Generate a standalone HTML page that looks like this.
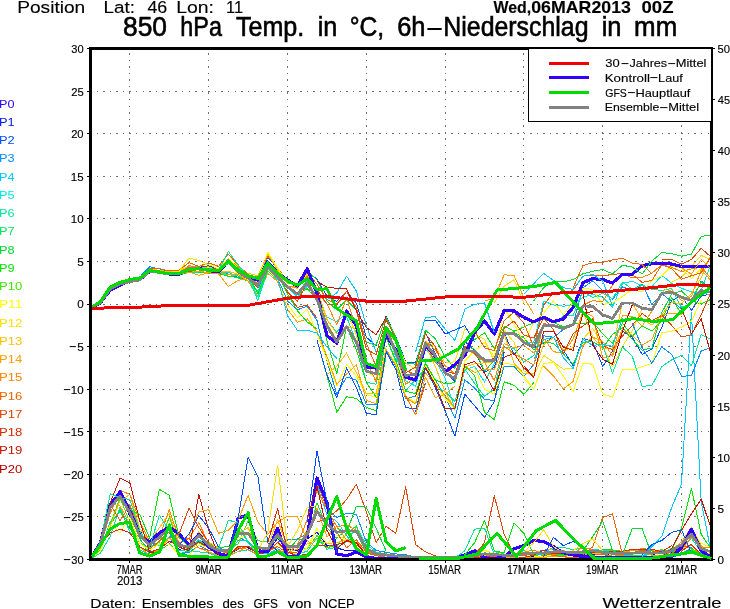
<!DOCTYPE html>
<html lang="de"><head><meta charset="utf-8"><title>850 hPa Temp. in °C, 6h-Niederschlag in mm</title>
<style>html,body{margin:0;padding:0;background:#fff;}body{width:730px;height:609px;overflow:hidden;}svg{display:block;}text{font-family:"Liberation Sans",sans-serif;fill:#000;}</style></head><body>
<svg width="730" height="609" viewBox="0 0 730 609">
<rect x="0" y="0" width="730" height="609" fill="#fff"/>
<g fill="none" stroke-linejoin="round" stroke-linecap="butt" shape-rendering="crispEdges">
<polyline points="90.5,559.0 100.3,545.8 110.2,503.8 120.0,490.2 129.9,517.0 139.8,530.4 149.6,546.9 159.4,543.8 169.3,538.3 179.1,549.7 189.0,545.4 198.8,540.5 208.7,547.3 218.5,552.3 228.4,554.9 238.2,548.9 248.1,547.8 257.9,552.5 267.8,551.9 277.6,538.3 287.5,548.9 297.4,550.6 307.2,539.0 317.0,532.1 326.9,545.6 336.8,548.0 346.6,550.7 356.4,550.1 366.3,556.0 376.1,557.5 386.0,557.6 395.8,558.2 405.7,558.3 415.6,559.0 425.4,558.9 435.2,558.9 445.1,558.7 454.9,559.0 464.8,559.0 474.6,558.3 484.5,558.4 494.3,558.2 504.2,558.0 514.0,557.6 523.9,557.7 533.8,556.7 543.6,556.0 553.5,556.2 563.3,554.6 573.1,555.1 583.0,554.2 592.8,554.2 602.7,554.0 612.5,554.5 622.4,552.3 632.2,552.1 642.1,553.5 651.9,554.6 661.8,552.8 671.6,552.3 681.5,545.8 691.4,533.1 701.2,549.9 711.0,556.5" stroke="#0010ff" stroke-width="1" />
<polyline points="90.5,559.0 100.3,542.9 110.2,503.8 120.0,490.2 129.9,508.0 139.8,539.0 149.6,551.4 159.4,533.8 169.3,532.1 179.1,553.7 189.0,552.5 198.8,545.5 208.7,550.3 218.5,548.4 228.4,550.3 238.2,536.5 248.1,542.4 257.9,551.6 267.8,553.0 277.6,542.3 287.5,539.0 297.4,539.0 307.2,533.7 317.0,482.7 326.9,508.9 336.8,517.4 346.6,513.4 356.4,514.4 366.3,542.2 376.1,550.4 386.0,552.3 395.8,553.9 405.7,554.8 415.6,556.9 425.4,558.0 435.2,557.6 445.1,557.4 454.9,557.8 464.8,557.6 474.6,553.9 484.5,550.4 494.3,553.2 504.2,555.1 514.0,554.5 523.9,553.6 533.8,552.5 543.6,550.1 553.5,549.2 563.3,553.5 573.1,552.9 583.0,552.7 592.8,551.9 602.7,554.6 612.5,556.7 622.4,557.4 632.2,557.1 642.1,557.2 651.9,558.5 661.8,557.1 671.6,556.9 681.5,554.9 691.4,547.4 701.2,556.9 711.0,555.5" stroke="#0090ff" stroke-width="1" />
<polyline points="90.5,559.0 100.3,549.9 110.2,522.0 120.0,511.5 129.9,524.2 139.8,549.9 149.6,555.2 159.4,551.1 169.3,536.4 179.1,550.9 189.0,549.3 198.8,539.9 208.7,546.4 218.5,548.8 228.4,553.9 238.2,540.2 248.1,541.2 257.9,551.9 267.8,554.1 277.6,548.7 287.5,555.0 297.4,555.6 307.2,536.5 317.0,485.4 326.9,514.8 336.8,521.4 346.6,535.2 356.4,550.6 366.3,557.1 376.1,557.7 386.0,556.5 395.8,557.1 405.7,558.0 415.6,558.5 425.4,558.8 435.2,559.0 445.1,558.9 454.9,558.8 464.8,558.9 474.6,558.4 484.5,557.8 494.3,557.4 504.2,556.2 514.0,556.4 523.9,550.5 533.8,554.7 543.6,554.2 553.5,555.4 563.3,555.2 573.1,555.3 583.0,553.3 592.8,549.5 602.7,553.5 612.5,556.1 622.4,556.0 632.2,555.3 642.1,555.6 651.9,554.3 661.8,550.4 671.6,553.2 681.5,547.2 691.4,530.5 701.2,553.8 711.0,554.7" stroke="#00c8ff" stroke-width="1" />
<polyline points="90.5,559.0 100.3,553.3 110.2,536.5 120.0,506.9 129.9,532.6 139.8,536.1 149.6,545.0 159.4,545.7 169.3,537.1 179.1,547.2 189.0,551.4 198.8,551.9 208.7,553.1 218.5,556.4 228.4,555.0 238.2,551.6 248.1,549.8 257.9,555.4 267.8,556.7 277.6,551.4 287.5,553.9 297.4,554.1 307.2,551.2 317.0,537.9 326.9,549.3 336.8,547.2 346.6,541.8 356.4,527.0 366.3,544.6 376.1,552.1 386.0,554.0 395.8,555.7 405.7,557.6 415.6,557.4 425.4,557.5 435.2,557.9 445.1,558.5 454.9,557.7 464.8,557.6 474.6,557.1 484.5,554.5 494.3,551.5 504.2,554.1 514.0,554.2 523.9,554.1 533.8,554.9 543.6,552.7 553.5,547.2 563.3,547.2 573.1,549.9 583.0,547.5 592.8,549.6 602.7,550.3 612.5,550.2 622.4,554.1 632.2,555.9 642.1,555.2 651.9,554.0 661.8,553.6 671.6,548.2 681.5,549.1 691.4,538.0 701.2,552.4 711.0,554.0" stroke="#00e6a0" stroke-width="1" />
<polyline points="90.5,559.0 100.3,546.9 110.2,524.7 120.0,510.6 129.9,529.2 139.8,537.9 149.6,554.5 159.4,550.7 169.3,543.8 179.1,554.1 189.0,550.8 198.8,541.8 208.7,543.6 218.5,547.3 228.4,546.8 238.2,529.4 248.1,541.0 257.9,551.6 267.8,553.1 277.6,542.3 287.5,551.8 297.4,539.0 307.2,539.0 317.0,502.6 326.9,528.0 336.8,538.3 346.6,529.1 356.4,532.5 366.3,553.1 376.1,555.3 386.0,556.4 395.8,558.3 405.7,558.1 415.6,558.8 425.4,558.9 435.2,558.6 445.1,558.4 454.9,558.5 464.8,557.2 474.6,554.9 484.5,554.3 494.3,554.8 504.2,556.0 514.0,557.9 523.9,557.9 533.8,558.0 543.6,555.3 553.5,554.6 563.3,554.9 573.1,555.9 583.0,553.2 592.8,552.5 602.7,549.6 612.5,549.9 622.4,551.4 632.2,549.8 642.1,549.4 651.9,552.8 661.8,553.7 671.6,555.4 681.5,552.9 691.4,550.0 701.2,555.6 711.0,554.3" stroke="#00dc32" stroke-width="1" />
<polyline points="90.5,559.0 100.3,549.0 110.2,524.4 120.0,497.8 129.9,522.4 139.8,543.1 149.6,548.2 159.4,542.3 169.3,517.2 179.1,544.9 189.0,549.0 198.8,542.6 208.7,547.8 218.5,551.8 228.4,550.3 238.2,543.7 248.1,520.8 257.9,540.6 267.8,542.2 277.6,537.6 287.5,548.2 297.4,547.1 307.2,548.8 317.0,535.4 326.9,547.4 336.8,545.9 346.6,533.9 356.4,525.7 366.3,552.7 376.1,553.5 386.0,553.7 395.8,556.1 405.7,556.3 415.6,556.3 425.4,557.5 435.2,557.8 445.1,558.2 454.9,557.6 464.8,558.7 474.6,556.4 484.5,556.0 494.3,555.1 504.2,557.4 514.0,557.8 523.9,557.3 533.8,555.4 543.6,557.0 553.5,555.1 563.3,555.7 573.1,553.8 583.0,553.8 592.8,551.9 602.7,553.9 612.5,550.6 622.4,552.9 632.2,553.5 642.1,548.1 651.9,550.4 661.8,549.9 671.6,551.2 681.5,545.3 691.4,548.9 701.2,554.0 711.0,556.0" stroke="#3ce600" stroke-width="1" />
<polyline points="90.5,559.0 100.3,551.1 110.2,524.1 120.0,532.8 129.9,516.8 139.8,543.2 149.6,550.3 159.4,543.7 169.3,544.1 179.1,555.0 189.0,555.3 198.8,545.0 208.7,547.2 218.5,555.2 228.4,552.2 238.2,538.0 248.1,534.7 257.9,548.9 267.8,548.9 277.6,543.2 287.5,553.1 297.4,553.8 307.2,548.1 317.0,528.6 326.9,543.7 336.8,535.4 346.6,539.8 356.4,543.3 366.3,551.0 376.1,554.4 386.0,556.1 395.8,557.6 405.7,558.2 415.6,558.9 425.4,558.6 435.2,558.0 445.1,557.4 454.9,557.4 464.8,557.2 474.6,554.3 484.5,550.4 494.3,553.3 504.2,554.4 514.0,552.8 523.9,554.3 533.8,556.0 543.6,556.7 553.5,554.5 563.3,551.8 573.1,554.0 583.0,551.8 592.8,551.6 602.7,552.7 612.5,554.8 622.4,554.9 632.2,554.8 642.1,551.8 651.9,549.1 661.8,554.0 671.6,551.0 681.5,546.0 691.4,529.2 701.2,543.4 711.0,547.2" stroke="#ffff00" stroke-width="1" />
<polyline points="90.5,559.0 100.3,548.7 110.2,526.4 120.0,500.7 129.9,494.5 139.8,528.5 149.6,541.2 159.4,527.8 169.3,513.4 179.1,543.9 189.0,548.3 198.8,531.8 208.7,542.0 218.5,548.3 228.4,552.2 238.2,533.0 248.1,527.7 257.9,547.8 267.8,547.2 277.6,519.3 287.5,548.8 297.4,546.8 307.2,544.0 317.0,539.7 326.9,543.5 336.8,542.5 346.6,540.2 356.4,546.3 366.3,555.9 376.1,557.5 386.0,557.6 395.8,558.2 405.7,558.7 415.6,558.2 425.4,558.6 435.2,558.6 445.1,558.7 454.9,558.7 464.8,558.6 474.6,557.6 484.5,555.4 494.3,557.1 504.2,558.1 514.0,556.1 523.9,555.1 533.8,553.0 543.6,550.6 553.5,548.8 563.3,550.4 573.1,555.4 583.0,556.6 592.8,553.9 602.7,553.5 612.5,553.3 622.4,556.2 632.2,557.7 642.1,557.7 651.9,558.0 661.8,557.3 671.6,556.9 681.5,549.5 691.4,545.2 701.2,554.1 711.0,553.7" stroke="#ffc000" stroke-width="1" />
<polyline points="90.5,559.0 100.3,546.0 110.2,503.8 120.0,505.8 129.9,524.2 139.8,547.1 149.6,555.1 159.4,548.8 169.3,537.9 179.1,545.8 189.0,545.7 198.8,547.9 208.7,552.0 218.5,555.4 228.4,556.3 238.2,551.5 248.1,546.1 257.9,553.4 267.8,547.4 277.6,530.1 287.5,552.6 297.4,549.2 307.2,529.3 317.0,508.5 326.9,536.9 336.8,526.4 346.6,539.9 356.4,540.3 366.3,555.5 376.1,557.8 386.0,558.5 395.8,557.9 405.7,557.2 415.6,558.2 425.4,558.8 435.2,558.7 445.1,558.4 454.9,558.8 464.8,559.0 474.6,558.1 484.5,556.1 494.3,556.2 504.2,556.2 514.0,557.4 523.9,558.1 533.8,557.1 543.6,557.3 553.5,556.4 563.3,556.3 573.1,555.6 583.0,555.8 592.8,551.7 602.7,553.4 612.5,553.3 622.4,552.4 632.2,550.5 642.1,549.8 651.9,555.4 661.8,556.0 671.6,549.8 681.5,542.1 691.4,527.7 701.2,545.8 711.0,552.7" stroke="#ffa000" stroke-width="1" />
<polyline points="90.5,559.0 100.3,547.0 110.2,513.4 120.0,490.2 129.9,494.5 139.8,521.4 149.6,541.2 159.4,537.2 169.3,509.6 179.1,538.7 189.0,538.5 198.8,522.5 208.7,543.9 218.5,550.3 228.4,553.8 238.2,547.6 248.1,549.4 257.9,554.9 267.8,556.3 277.6,550.2 287.5,553.1 297.4,545.1 307.2,519.3 317.0,491.0 326.9,508.9 336.8,526.8 346.6,524.9 356.4,530.2 366.3,551.0 376.1,555.0 386.0,557.4 395.8,557.3 405.7,557.7 415.6,558.6 425.4,558.7 435.2,558.4 445.1,558.6 454.9,558.3 464.8,558.0 474.6,554.6 484.5,554.9 494.3,555.7 504.2,555.7 514.0,553.5 523.9,552.1 533.8,550.1 543.6,554.8 553.5,554.9 563.3,550.8 573.1,553.4 583.0,547.2 592.8,549.9 602.7,553.1 612.5,556.4 622.4,555.1 632.2,554.6 642.1,548.6 651.9,550.9 661.8,552.8 671.6,554.4 681.5,550.4 691.4,536.7 701.2,547.7 711.0,547.9" stroke="#ff8200" stroke-width="1" />
<polyline points="90.5,559.0 100.3,542.9 110.2,504.0 120.0,520.7 129.9,504.8 139.8,531.6 149.6,548.9 159.4,541.0 169.3,531.7 179.1,542.9 189.0,538.5 198.8,548.0 208.7,550.4 218.5,549.4 228.4,553.1 238.2,549.3 248.1,545.9 257.9,551.9 267.8,551.3 277.6,546.5 287.5,553.2 297.4,551.9 307.2,539.0 317.0,482.7 326.9,508.9 336.8,532.4 346.6,547.8 356.4,539.7 366.3,552.1 376.1,555.7 386.0,557.3 395.8,557.0 405.7,558.3 415.6,558.5 425.4,558.5 435.2,558.3 445.1,557.6 454.9,557.9 464.8,557.9 474.6,555.4 484.5,556.1 494.3,556.6 504.2,556.8 514.0,555.6 523.9,555.7 533.8,553.6 543.6,553.1 553.5,555.3 563.3,556.8 573.1,557.7 583.0,556.6 592.8,555.2 602.7,554.4 612.5,553.4 622.4,554.8 632.2,552.7 642.1,550.3 651.9,551.0 661.8,551.0 671.6,553.3 681.5,547.2 691.4,545.2 701.2,555.1 711.0,556.2" stroke="#eb6400" stroke-width="1" />
<polyline points="90.5,559.0 100.3,544.5 110.2,533.0 120.0,529.1 129.9,532.8 139.8,546.7 149.6,552.3 159.4,549.0 169.3,541.4 179.1,546.1 189.0,548.5 198.8,541.7 208.7,547.8 218.5,553.0 228.4,556.2 238.2,546.2 248.1,546.5 257.9,554.1 267.8,552.4 277.6,542.1 287.5,552.1 297.4,555.8 307.2,554.2 317.0,545.0 326.9,546.2 336.8,545.0 346.6,541.2 356.4,543.6 366.3,555.3 376.1,557.7 386.0,557.7 395.8,558.4 405.7,557.9 415.6,558.8 425.4,559.0 435.2,559.0 445.1,559.0 454.9,558.6 464.8,558.8 474.6,557.8 484.5,556.6 494.3,557.4 504.2,558.4 514.0,558.7 523.9,557.4 533.8,555.3 543.6,550.1 553.5,554.0 563.3,552.7 573.1,553.9 583.0,551.1 592.8,552.4 602.7,552.2 612.5,551.4 622.4,551.4 632.2,549.4 642.1,549.7 651.9,549.1 661.8,551.8 671.6,545.6 681.5,551.3 691.4,544.1 701.2,554.3 711.0,555.3" stroke="#d72800" stroke-width="1" />
<polyline points="90.5,308.0 100.3,302.5 110.2,289.0 120.0,282.2 129.9,279.5 139.8,279.2 149.6,271.0 159.4,272.5 169.3,274.2 179.1,273.8 189.0,266.4 198.8,267.1 208.7,265.8 218.5,269.3 228.4,258.4 238.2,269.6 248.1,275.3 257.9,277.8 267.8,257.3 277.6,268.4 287.5,282.0 297.4,285.3 307.2,271.0 317.0,279.4 326.9,295.9 336.8,301.5 346.6,291.3 356.4,303.3 366.3,337.2 376.1,345.9 386.0,316.3 395.8,336.5 405.7,362.0 415.6,362.1 425.4,332.6 435.2,353.7 445.1,372.9 454.9,381.3 464.8,341.3 474.6,350.6 484.5,372.1 494.3,367.5 504.2,333.4 514.0,354.6 523.9,343.6 533.8,347.8 543.6,343.3 553.5,337.2 563.3,349.9 573.1,366.0 583.0,338.5 592.8,341.6 602.7,366.7 612.5,350.9 622.4,331.0 632.2,337.1 642.1,354.4 651.9,348.9 661.8,327.3 671.6,300.3 681.5,296.4 691.4,310.3 701.2,296.1 711.0,294.0" stroke="#0050ff" stroke-width="1" />
<polyline points="90.5,308.0 100.3,300.8 110.2,286.7 120.0,281.7 129.9,278.5 139.8,277.0 149.6,266.8 159.4,268.9 169.3,271.2 179.1,272.6 189.0,268.5 198.8,269.1 208.7,271.6 218.5,273.3 228.4,274.0 238.2,277.3 248.1,279.4 257.9,287.7 267.8,269.5 277.6,278.5 287.5,301.0 297.4,309.8 307.2,306.2 317.0,320.4 326.9,360.8 336.8,394.2 346.6,377.1 356.4,380.0 366.3,404.4 376.1,405.0 386.0,351.1 395.8,365.8 405.7,399.0 415.6,396.0 425.4,364.2 435.2,379.6 445.1,396.3 454.9,418.1 464.8,379.8 474.6,388.0 484.5,399.3 494.3,400.6 504.2,366.0 514.0,366.3 523.9,376.5 533.8,364.5 543.6,335.8 553.5,337.3 563.3,329.6 573.1,323.8 583.0,287.7 592.8,280.7 602.7,290.9 612.5,299.4 622.4,287.0 632.2,290.1 642.1,284.1 651.9,304.5 661.8,293.5 671.6,301.6 681.5,308.6 691.4,302.8 701.2,281.0 711.0,289.8" stroke="#0090ff" stroke-width="1" />
<polyline points="90.5,308.0 100.3,303.7 110.2,289.8 120.0,284.2 129.9,281.5 139.8,280.1 149.6,271.1 159.4,272.4 169.3,273.0 179.1,272.3 189.0,266.5 198.8,269.3 208.7,271.2 218.5,271.7 228.4,276.4 238.2,275.1 248.1,278.7 257.9,285.2 267.8,268.4 277.6,277.1 287.5,286.5 297.4,297.2 307.2,286.2 317.0,295.2 326.9,317.1 336.8,321.8 346.6,312.9 356.4,333.2 366.3,363.7 376.1,365.6 386.0,328.7 395.8,356.7 405.7,380.8 415.6,386.2 425.4,349.3 435.2,359.9 445.1,377.9 454.9,409.3 464.8,369.6 474.6,366.4 484.5,382.0 494.3,363.7 504.2,331.9 514.0,332.8 523.9,343.6 533.8,342.2 543.6,301.1 553.5,305.0 563.3,306.2 573.1,304.8 583.0,297.0 592.8,294.5 602.7,297.2 612.5,307.1 622.4,283.5 632.2,281.2 642.1,285.7 651.9,286.7 661.8,275.3 671.6,283.2 681.5,288.3 691.4,291.8 701.2,293.4 711.0,294.4" stroke="#00e6e6" stroke-width="1" />
<polyline points="90.5,308.0 100.3,303.6 110.2,289.7 120.0,284.8 129.9,281.9 139.8,280.6 149.6,271.2 159.4,272.9 169.3,275.0 179.1,275.1 189.0,272.5 198.8,272.0 208.7,273.1 218.5,272.4 228.4,272.5 238.2,276.2 248.1,280.0 257.9,291.6 267.8,267.5 277.6,277.8 287.5,286.4 297.4,293.3 307.2,280.2 317.0,291.8 326.9,319.3 336.8,332.4 346.6,317.0 356.4,341.9 366.3,382.3 376.1,384.2 386.0,336.9 395.8,361.9 405.7,390.8 415.6,379.7 425.4,368.3 435.2,386.4 445.1,391.6 454.9,401.4 464.8,369.1 474.6,383.4 484.5,396.3 494.3,389.0 504.2,347.2 514.0,348.4 523.9,362.1 533.8,355.5 543.6,325.5 553.5,325.2 563.3,315.7 573.1,315.4 583.0,291.1 592.8,297.7 602.7,293.3 612.5,298.7 622.4,282.2 632.2,289.0 642.1,285.4 651.9,289.3 661.8,290.4 671.6,288.6 681.5,307.4 691.4,303.2 701.2,290.4 711.0,263.9" stroke="#00e6a0" stroke-width="1" />
<polyline points="90.5,308.0 100.3,303.0 110.2,288.0 120.0,284.3 129.9,282.4 139.8,280.9 149.6,271.8 159.4,273.2 169.3,274.2 179.1,274.2 189.0,270.3 198.8,269.6 208.7,271.4 218.5,271.2 228.4,263.3 238.2,272.4 248.1,278.1 257.9,286.7 267.8,267.5 277.6,274.9 287.5,282.7 297.4,285.8 307.2,271.0 317.0,279.9 326.9,301.1 336.8,309.9 346.6,300.0 356.4,309.7 366.3,342.0 376.1,345.2 386.0,316.8 395.8,337.2 405.7,363.3 415.6,364.1 425.4,330.1 435.2,338.5 445.1,357.0 454.9,368.5 464.8,346.0 474.6,349.3 484.5,370.9 494.3,360.9 504.2,332.9 514.0,332.5 523.9,337.8 533.8,350.0 543.6,342.1 553.5,343.3 563.3,353.9 573.1,364.4 583.0,342.1 592.8,341.8 602.7,347.9 612.5,334.5 622.4,327.7 632.2,339.3 642.1,350.1 651.9,348.1 661.8,312.6 671.6,294.0 681.5,291.1 691.4,300.1 701.2,281.7 711.0,290.6" stroke="#00dc32" stroke-width="1" />
<polyline points="90.5,308.0 100.3,301.0 110.2,286.7 120.0,281.8 129.9,279.1 139.8,277.9 149.6,269.8 159.4,272.3 169.3,274.5 179.1,274.1 189.0,269.2 198.8,272.1 208.7,273.7 218.5,273.8 228.4,276.0 238.2,277.9 248.1,280.9 257.9,294.7 267.8,269.0 277.6,277.8 287.5,285.9 297.4,293.8 307.2,288.7 317.0,299.4 326.9,340.9 336.8,374.0 346.6,326.4 356.4,349.8 366.3,382.3 376.1,397.3 386.0,337.1 395.8,359.9 405.7,391.2 415.6,393.6 425.4,362.7 435.2,379.9 445.1,383.8 454.9,382.6 464.8,348.0 474.6,339.6 484.5,332.8 494.3,348.5 504.2,326.2 514.0,331.2 523.9,327.0 533.8,322.6 543.6,319.1 553.5,322.5 563.3,326.8 573.1,323.7 583.0,323.6 592.8,321.9 602.7,333.7 612.5,343.3 622.4,323.0 632.2,336.2 642.1,326.0 651.9,330.9 661.8,320.8 671.6,297.5 681.5,314.4 691.4,300.6 701.2,304.0 711.0,299.3" stroke="#00e600" stroke-width="1" />
<polyline points="90.5,308.0 100.3,302.0 110.2,288.0 120.0,284.2 129.9,281.7 139.8,280.1 149.6,271.3 159.4,272.5 169.3,274.7 179.1,273.7 189.0,269.0 198.8,268.6 208.7,267.5 218.5,272.2 228.4,260.6 238.2,274.9 248.1,280.1 257.9,294.7 267.8,270.0 277.6,279.7 287.5,304.4 297.4,317.8 307.2,309.2 317.0,333.5 326.9,359.9 336.8,385.9 346.6,364.4 356.4,376.5 366.3,394.4 376.1,397.2 386.0,349.5 395.8,363.0 405.7,395.9 415.6,402.8 425.4,365.1 435.2,382.3 445.1,398.4 454.9,408.3 464.8,360.5 474.6,351.2 484.5,342.8 494.3,356.8 504.2,308.1 514.0,323.8 523.9,342.2 533.8,322.3 543.6,313.3 553.5,301.0 563.3,315.0 573.1,302.2 583.0,288.1 592.8,289.7 602.7,304.5 612.5,302.8 622.4,296.4 632.2,289.5 642.1,292.1 651.9,280.5 661.8,275.6 671.6,266.1 681.5,268.2 691.4,278.5 701.2,268.4 711.0,257.4" stroke="#ffff00" stroke-width="1" />
<polyline points="90.5,308.0 100.3,302.4 110.2,287.9 120.0,283.1 129.9,280.1 139.8,278.6 149.6,269.1 159.4,272.1 169.3,271.8 179.1,271.3 189.0,262.5 198.8,266.8 208.7,263.3 218.5,266.9 228.4,254.3 238.2,266.1 248.1,275.9 257.9,281.2 267.8,262.8 277.6,271.5 287.5,281.8 297.4,287.7 307.2,273.9 317.0,292.5 326.9,323.6 336.8,339.6 346.6,309.1 356.4,335.6 366.3,370.3 376.1,378.7 386.0,330.1 395.8,342.0 405.7,363.0 415.6,369.0 425.4,341.1 435.2,346.5 445.1,362.5 454.9,361.9 464.8,328.7 474.6,335.1 484.5,339.2 494.3,361.8 504.2,330.7 514.0,342.0 523.9,371.0 533.8,375.4 543.6,355.5 553.5,362.0 563.3,369.2 573.1,368.3 583.0,339.0 592.8,328.3 602.7,346.0 612.5,366.9 622.4,346.7 632.2,330.5 642.1,308.3 651.9,309.6 661.8,293.9 671.6,282.1 681.5,277.1 691.4,266.5 701.2,255.4 711.0,259.8" stroke="#ffe000" stroke-width="1" />
<polyline points="90.5,308.0 100.3,301.4 110.2,287.9 120.0,283.5 129.9,281.4 139.8,279.5 149.6,268.8 159.4,270.4 169.3,271.6 179.1,270.4 189.0,266.4 198.8,268.3 208.7,266.8 218.5,271.0 228.4,271.3 238.2,274.5 248.1,278.5 257.9,283.2 267.8,261.1 277.6,275.9 287.5,286.0 297.4,288.2 307.2,275.4 317.0,288.7 326.9,319.3 336.8,333.9 346.6,326.4 356.4,328.9 366.3,372.0 376.1,372.0 386.0,330.2 395.8,351.3 405.7,375.4 415.6,380.1 425.4,345.8 435.2,366.1 445.1,391.8 454.9,409.0 464.8,367.1 474.6,363.9 484.5,362.8 494.3,361.8 504.2,334.1 514.0,363.3 523.9,373.7 533.8,373.8 543.6,344.6 553.5,337.5 563.3,350.0 573.1,347.7 583.0,311.4 592.8,337.2 602.7,348.6 612.5,349.0 622.4,302.8 632.2,303.5 642.1,319.3 651.9,325.0 661.8,314.6 671.6,302.4 681.5,303.9 691.4,293.3 701.2,277.8 711.0,254.8" stroke="#ffc000" stroke-width="1" />
<polyline points="90.5,308.0 100.3,302.5 110.2,288.7 120.0,283.3 129.9,279.9 139.8,279.5 149.6,271.4 159.4,272.6 169.3,274.7 179.1,274.1 189.0,271.0 198.8,271.8 208.7,272.2 218.5,272.5 228.4,274.6 238.2,274.5 248.1,281.0 257.9,297.0 267.8,273.3 277.6,281.5 287.5,309.4 297.4,322.3 307.2,318.8 317.0,331.2 326.9,356.3 336.8,384.1 346.6,374.1 356.4,364.5 366.3,400.3 376.1,403.8 386.0,349.0 395.8,365.3 405.7,397.7 415.6,403.9 425.4,372.9 435.2,384.6 445.1,395.6 454.9,408.5 464.8,365.9 474.6,372.3 484.5,369.4 494.3,369.7 504.2,343.5 514.0,348.0 523.9,345.4 533.8,353.1 543.6,338.3 553.5,351.8 563.3,352.8 573.1,339.1 583.0,311.6 592.8,316.2 602.7,358.1 612.5,354.9 622.4,315.1 632.2,316.4 642.1,326.1 651.9,311.3 661.8,293.4 671.6,289.8 681.5,300.8 691.4,296.4 701.2,269.8 711.0,280.5" stroke="#ffa000" stroke-width="1" />
<polyline points="90.5,308.0 100.3,303.0 110.2,289.0 120.0,283.5 129.9,279.8 139.8,279.1 149.6,271.0 159.4,272.5 169.3,273.5 179.1,273.7 189.0,265.7 198.8,267.2 208.7,269.3 218.5,271.0 228.4,259.3 238.2,266.8 248.1,276.1 257.9,281.6 267.8,260.9 277.6,274.5 287.5,285.9 297.4,287.6 307.2,276.1 317.0,292.5 326.9,303.6 336.8,324.8 346.6,297.6 356.4,330.1 366.3,360.2 376.1,381.9 386.0,332.2 395.8,353.3 405.7,384.3 415.6,376.8 425.4,341.4 435.2,349.8 445.1,365.5 454.9,373.9 464.8,347.2 474.6,354.4 484.5,362.2 494.3,380.9 504.2,346.3 514.0,353.8 523.9,359.0 533.8,365.2 543.6,323.2 553.5,326.0 563.3,329.6 573.1,323.8 583.0,305.1 592.8,300.5 602.7,301.9 612.5,285.0 622.4,273.4 632.2,278.0 642.1,277.3 651.9,273.3 661.8,264.3 671.6,267.3 681.5,271.6 691.4,268.8 701.2,267.5 711.0,278.2" stroke="#ff8200" stroke-width="1" />
<polyline points="90.5,308.0 100.3,302.9 110.2,288.4 120.0,283.8 129.9,281.5 139.8,280.0 149.6,268.7 159.4,268.7 169.3,270.9 179.1,270.0 189.0,262.6 198.8,266.3 208.7,262.8 218.5,266.4 228.4,254.1 238.2,265.2 248.1,274.5 257.9,277.3 267.8,256.2 277.6,267.7 287.5,282.0 297.4,286.5 307.2,272.0 317.0,284.3 326.9,299.6 336.8,304.1 346.6,291.1 356.4,307.9 366.3,343.3 376.1,366.5 386.0,328.7 395.8,349.9 405.7,370.4 415.6,374.5 425.4,341.5 435.2,362.5 445.1,371.5 454.9,379.1 464.8,350.9 474.6,330.8 484.5,347.8 494.3,350.8 504.2,320.6 514.0,312.1 523.9,323.1 533.8,347.2 543.6,305.2 553.5,292.2 563.3,293.8 573.1,290.1 583.0,276.1 592.8,275.1 602.7,275.9 612.5,274.4 622.4,273.6 632.2,274.3 642.1,282.4 651.9,280.5 661.8,264.7 671.6,268.5 681.5,279.3 691.4,275.7 701.2,272.8 711.0,256.2" stroke="#eb6400" stroke-width="1" />
<polyline points="90.5,308.0 100.3,302.6 110.2,288.8 120.0,284.7 129.9,282.1 139.8,280.7 149.6,271.7 159.4,273.0 169.3,274.2 179.1,274.6 189.0,271.8 198.8,269.2 208.7,268.9 218.5,268.2 228.4,258.9 238.2,269.8 248.1,277.2 257.9,287.5 267.8,266.5 277.6,275.0 287.5,292.2 297.4,301.3 307.2,282.8 317.0,289.6 326.9,304.2 336.8,304.9 346.6,291.5 356.4,310.7 366.3,349.0 376.1,354.8 386.0,319.5 395.8,338.4 405.7,372.8 415.6,366.9 425.4,333.8 435.2,346.5 445.1,370.7 454.9,373.8 464.8,346.5 474.6,353.6 484.5,360.4 494.3,358.7 504.2,328.3 514.0,320.9 523.9,335.1 533.8,338.0 543.6,317.9 553.5,329.7 563.3,353.5 573.1,333.5 583.0,326.0 592.8,318.8 602.7,346.0 612.5,349.5 622.4,336.0 632.2,325.5 642.1,313.5 651.9,320.7 661.8,315.3 671.6,325.3 681.5,336.9 691.4,335.1 701.2,314.6 711.0,292.2" stroke="#e14600" stroke-width="1" />
<polyline points="90.5,559.0 100.3,543.0 110.2,505.0 120.0,492.0 129.9,511.0 139.8,535.0 149.6,542.0 159.4,533.0 169.3,527.0 179.1,534.0 189.0,545.5 198.8,534.4 208.7,546.7 218.5,553.8 228.4,555.9 238.2,518.0 248.1,515.0 257.9,550.8 267.8,551.8 277.6,528.2 287.5,557.0 297.4,557.0 307.2,536.4 317.0,478.0 326.9,502.6 336.8,553.8 346.6,555.9 356.4,551.8 366.3,557.0 376.1,558.5 386.0,558.5 395.8,558.5 405.7,558.5 415.6,558.5 425.4,558.5 435.2,558.5 445.1,558.5 454.9,558.5 464.8,554.9 474.6,550.8 484.5,558.0 494.3,558.5 504.2,557.0 514.0,548.7 523.9,545.6 533.8,540.5 543.6,541.5 553.5,546.7 563.3,552.8 573.1,554.9 583.0,556.5 592.8,557.0 602.7,558.0 612.5,558.0 622.4,558.0 632.2,558.0 642.1,558.0 651.9,558.0 661.8,558.0 671.6,557.0 681.5,547.7 691.4,529.2 701.2,550.8 711.0,557.3" stroke="#3200ff" stroke-width="3.2" />
<polyline points="90.5,308.0 100.3,303.0 110.2,290.0 120.0,285.0 129.9,281.0 139.8,279.5 149.6,271.5 159.4,272.0 169.3,274.0 179.1,274.0 189.0,269.0 198.8,268.5 208.7,270.5 218.5,272.0 228.4,261.0 238.2,271.0 248.1,277.0 257.9,280.0 267.8,262.0 277.6,273.0 287.5,280.0 297.4,286.0 307.2,269.0 317.0,293.0 326.9,335.6 336.8,343.0 346.6,311.0 356.4,325.8 366.3,367.0 376.1,368.0 386.0,335.0 395.8,350.0 405.7,377.0 415.6,380.0 425.4,345.0 435.2,356.0 445.1,372.0 454.9,364.7 464.8,355.6 474.6,332.3 484.5,320.8 494.3,334.0 504.2,310.6 514.0,311.0 523.9,317.5 533.8,321.9 543.6,317.3 553.5,321.7 563.3,318.9 573.1,307.4 583.0,282.7 592.8,278.6 602.7,279.5 612.5,283.0 622.4,274.4 632.2,274.1 642.1,265.8 651.9,263.6 661.8,263.1 671.6,264.1 681.5,266.5 691.4,266.5 701.2,266.5 711.0,266.5" stroke="#3200ff" stroke-width="3.2" />
</g>
<g stroke="#6e6e6e" stroke-width="1" fill="none" shape-rendering="crispEdges" stroke-dasharray="1.5 5.07">
<line x1="96.55" y1="516.5" x2="710" y2="516.5"/>
<line x1="96.55" y1="474.5" x2="710" y2="474.5"/>
<line x1="96.55" y1="431.5" x2="710" y2="431.5"/>
<line x1="96.55" y1="389.5" x2="710" y2="389.5"/>
<line x1="96.55" y1="346.5" x2="710" y2="346.5"/>
<line x1="96.55" y1="304.5" x2="710" y2="304.5"/>
<line x1="96.55" y1="261.5" x2="710" y2="261.5"/>
<line x1="96.55" y1="218.5" x2="710" y2="218.5"/>
<line x1="96.55" y1="176.5" x2="710" y2="176.5"/>
<line x1="96.55" y1="133.5" x2="710" y2="133.5"/>
<line x1="96.55" y1="91.5" x2="710" y2="91.5"/>
<line x1="129.5" y1="53.0" x2="129.5" y2="558"/>
<line x1="208.5" y1="53.0" x2="208.5" y2="558"/>
<line x1="287.5" y1="53.0" x2="287.5" y2="558"/>
<line x1="366.5" y1="53.0" x2="366.5" y2="558"/>
<line x1="445.5" y1="53.0" x2="445.5" y2="558"/>
<line x1="523.5" y1="53.0" x2="523.5" y2="558"/>
<line x1="602.5" y1="53.0" x2="602.5" y2="558"/>
<line x1="681.5" y1="53.0" x2="681.5" y2="558"/>
</g>
<g fill="none" stroke-linejoin="round" stroke-linecap="butt" shape-rendering="crispEdges">
<polyline points="90.5,559.0 100.3,543.0 110.2,502.8 120.0,478.2 129.9,483.1 139.8,520.9 149.6,552.1 159.4,553.8" stroke="#c31400" stroke-width="1" />
<polyline points="129.9,509.4 139.8,514.3 149.6,538.2 159.4,489.3 169.3,495.4 179.1,537.3 189.0,547.2" stroke="#00e600" stroke-width="1" />
<polyline points="90.5,559.0 100.3,542.3 110.2,493.8 120.0,497.9 129.9,499.5 139.8,530.8 149.6,547.2 159.4,515.1 169.3,530.8 179.1,545.6" stroke="#00e6a0" stroke-width="1" />
<polyline points="179.1,547.2 189.0,550.5 198.8,494.2 208.7,530.3 218.5,554.9" stroke="#c31400" stroke-width="1" />
<polyline points="169.3,537.3 179.1,534.0 189.0,508.1 198.8,527.5 208.7,542.6" stroke="#e14600" stroke-width="1" />
<polyline points="189.0,535.7 198.8,512.0 208.7,509.7 218.5,533.3 228.4,530.3 238.2,520.0 248.1,495.4 257.9,522.1 267.8,534.4 277.6,522.1 287.5,516.3 297.4,516.3 307.2,540.5 317.0,548.0" stroke="#ffa000" stroke-width="1" />
<polyline points="179.1,545.0 189.0,534.0 198.8,515.5 208.7,528.2 218.5,546.7" stroke="#0050ff" stroke-width="1" />
<polyline points="228.4,554.9 238.2,518.0 248.1,457.4 257.9,476.5 267.8,542.6 277.6,550.8" stroke="#0050ff" stroke-width="1" />
<polyline points="257.9,550.8 267.8,532.3 277.6,465.0 287.5,546.7 297.4,530.3 307.2,507.7 317.0,505.6" stroke="#ffe000" stroke-width="1" />
<polyline points="267.8,542.6 277.6,508.7 287.5,550.8" stroke="#d72800" stroke-width="1" />
<polyline points="218.5,548.7 228.4,520.0 238.2,523.1 248.1,542.6 257.9,554.9" stroke="#00e6a0" stroke-width="1" />
<polyline points="307.2,522.1 317.0,451.3 326.9,501.5 336.8,552.8" stroke="#0050ff" stroke-width="1" />
<polyline points="317.0,522.1 326.9,518.0 336.8,510.8 346.6,499.5 356.4,484.1 366.3,511.8 376.1,542.6 386.0,526.2 395.8,533.3 405.7,486.8 415.6,544.6 425.4,551.8 435.2,555.9 445.1,558.0" stroke="#e14600" stroke-width="1" />
<polyline points="336.8,528.2 346.6,532.3 356.4,506.1 366.3,507.3 376.1,528.2 386.0,550.8" stroke="#00dc32" stroke-width="1" />
<polyline points="307.2,518.0 317.0,486.2 326.9,530.3 336.8,548.7 346.6,540.5 356.4,542.6 366.3,554.9" stroke="#c31400" stroke-width="1" />
<polyline points="474.6,554.9 484.5,542.6 494.3,495.8 504.2,534.4 514.0,554.9" stroke="#e14600" stroke-width="1" />
<polyline points="464.8,554.9 474.6,542.6 484.5,520.4 494.3,550.8 504.2,552.8 514.0,523.1 523.9,533.3 533.8,554.9" stroke="#00e600" stroke-width="1" />
<polyline points="454.9,558.0 464.8,550.8 474.6,529.2 484.5,528.2 494.3,554.9" stroke="#00e6a0" stroke-width="1" />
<polyline points="583.0,554.9 592.8,546.7 602.7,517.5 612.5,513.8 622.4,554.9" stroke="#eb6400" stroke-width="1" />
<polyline points="583.0,550.8 592.8,536.4 602.7,521.0 612.5,550.8 622.4,554.9 632.2,528.6 642.1,528.6 651.9,554.9" stroke="#00dc32" stroke-width="1" />
<polyline points="523.9,552.0 533.8,542.6 543.6,529.8 553.5,546.7 563.3,552.8 573.1,550.8 583.0,543.6 592.8,538.9 602.7,550.8 612.5,554.9" stroke="#ffe000" stroke-width="1" />
<polyline points="543.6,556.9 553.5,537.4 563.3,545.6 573.1,541.5 583.0,546.7 592.8,554.9" stroke="#0050ff" stroke-width="1" />
<polyline points="642.1,556.9 651.9,546.7 661.8,536.4 671.6,507.7 681.5,484.1 691.4,312.0 701.2,501.5 711.0,551.8" stroke="#00c8ff" stroke-width="1" />
<polyline points="671.6,550.8 681.5,528.2 691.4,488.2 701.2,534.4 711.0,548.7" stroke="#00e600" stroke-width="1" />
<polyline points="661.8,556.9 671.6,548.7 681.5,530.3 691.4,513.8 701.2,499.1 711.0,528.2" stroke="#c31400" stroke-width="1" />
<polyline points="642.1,554.9 651.9,544.6 661.8,540.5 671.6,532.3 681.5,529.8 691.4,552.8 701.2,556.0" stroke="#0050ff" stroke-width="1" />
<polyline points="90.5,559.0 100.3,543.9 110.2,507.7 120.0,496.2 129.9,512.7 139.8,535.7 149.6,544.7 159.4,537.3 169.3,528.3 179.1,545.6 189.0,546.4 198.8,535.5 208.7,545.6 218.5,550.8 228.4,550.8 238.2,533.3 248.1,533.3 257.9,547.7 267.8,548.7 277.6,534.4 287.5,546.7 297.4,546.7 307.2,534.4 317.0,511.5 326.9,524.1 336.8,532.3 346.6,530.7 356.4,531.3 366.3,548.7 376.1,553.8 386.0,555.0 395.8,556.0 405.7,556.5 415.6,557.5 425.4,557.8 435.2,557.8 445.1,557.8 454.9,557.8 464.8,557.8 474.6,556.0 484.5,553.8 494.3,554.5 504.2,555.3 514.0,555.3 523.9,553.8 533.8,553.0 543.6,553.0 553.5,551.8 563.3,551.8 573.1,552.8 583.0,551.8 592.8,550.8 602.7,552.4 612.5,553.2 622.4,553.2 632.2,553.2 642.1,552.4 651.9,553.0 661.8,553.0 671.6,550.8 681.5,544.6 691.4,534.0 701.2,548.7 711.0,551.8" stroke="#828282" stroke-width="2.8" />
<polyline points="277.6,277.8 287.5,315.6 297.4,330.4 307.2,330.3 317.0,333.0 326.9,347.0 336.8,358.6" stroke="#00c8ff" stroke-width="1" />
<polyline points="326.9,300.0 336.8,292.9 346.6,276.1 356.4,291.2 366.3,325.8 376.1,352.0" stroke="#00c8ff" stroke-width="1" />
<polyline points="317.0,281.4 326.9,287.1 336.8,288.3 346.6,288.8 356.4,311.0 366.3,327.4 376.1,334.8 386.0,317.5" stroke="#c31400" stroke-width="1" />
<polyline points="169.3,275.0 179.1,274.0 189.0,272.0 198.8,275.3 208.7,272.9 218.5,273.7 228.4,286.5 238.2,280.3 248.1,278.6 257.9,283.0 267.8,270.0" stroke="#ffa000" stroke-width="1" />
<polyline points="169.3,272.5 179.1,271.0 189.0,258.1 198.8,260.5 208.7,264.7 218.5,269.0 228.4,259.0 238.2,268.0" stroke="#ffe000" stroke-width="1" />
<polyline points="208.7,268.0 218.5,270.4 228.4,251.5 238.2,264.7 248.1,277.0 257.9,300.8 267.8,271.0 277.6,280.0" stroke="#00e6a0" stroke-width="1" />
<polyline points="238.2,268.0 248.1,276.0 257.9,297.0 267.8,268.0 277.6,279.0" stroke="#00e6e6" stroke-width="1" />
<polyline points="238.2,270.0 248.1,275.0 257.9,294.0 267.8,270.0" stroke="#00e600" stroke-width="1" />
<polyline points="248.1,274.0 257.9,279.5 267.8,252.3 277.6,268.0 287.5,283.0" stroke="#ffff00" stroke-width="1" />
<polyline points="248.1,273.0 257.9,276.0 267.8,254.0 277.6,270.0 287.5,284.0" stroke="#ffc000" stroke-width="1" />
<polyline points="287.5,294.0 297.4,307.4 307.2,305.0 317.0,318.0" stroke="#e14600" stroke-width="1" />
<polyline points="277.6,272.9 287.5,294.0 297.4,310.7 307.2,322.0 317.0,329.0" stroke="#00e600" stroke-width="1" />
<polyline points="317.0,340.0 326.9,375.3 336.8,412.3 346.6,396.7 356.4,398.4 366.3,407.4 376.1,410.7 386.0,356.4" stroke="#00e600" stroke-width="1" />
<polyline points="317.0,340.0 326.9,375.0 336.8,397.5 346.6,368.0 356.4,387.7 366.3,413.2 376.1,414.8 386.0,351.5 395.8,369.6 405.7,407.4 415.6,409.0 425.4,383.0" stroke="#0050ff" stroke-width="1" />
<polyline points="405.7,396.0 415.6,414.8 425.4,384.0" stroke="#eb6400" stroke-width="1" />
<polyline points="326.9,374.5 336.8,366.3 346.6,353.0 356.4,372.9 366.3,393.4 376.1,393.4 386.0,348.2" stroke="#ffc000" stroke-width="1" />
<polyline points="415.6,412.3 425.4,368.0 435.2,387.7 445.1,410.7 454.9,436.2 464.8,394.2 474.6,405.8 484.5,417.3 494.3,401.6 504.2,351.5" stroke="#0050ff" stroke-width="1" />
<polyline points="464.8,366.3 474.6,375.3 484.5,412.3 494.3,419.7 504.2,381.9 514.0,385.2 523.9,394.2 533.8,382.7" stroke="#00e600" stroke-width="1" />
<polyline points="415.6,396.0 425.4,367.0 435.2,384.4 445.1,409.0 454.9,408.2 464.8,364.7 474.6,361.4 484.5,372.9 494.3,391.0 504.2,357.3 514.0,353.2 523.9,368.0 533.8,377.8" stroke="#c31400" stroke-width="1" />
<polyline points="415.6,414.8 425.4,377.0 435.2,397.5 445.1,394.2 454.9,386.0" stroke="#ffa000" stroke-width="1" />
<polyline points="474.6,368.0 484.5,389.3 494.3,394.2 504.2,363.0 514.0,364.7 523.9,376.2 533.8,389.3" stroke="#ffff00" stroke-width="1" />
<polyline points="484.5,301.1 494.3,297.8 504.2,274.8 514.0,275.6 523.9,297.8 533.8,314.2" stroke="#ffa000" stroke-width="1" />
<polyline points="494.3,302.7 504.2,286.3 514.0,279.7 523.9,302.7" stroke="#ffe000" stroke-width="1" />
<polyline points="415.6,352.0 425.4,317.5 435.2,316.7 445.1,329.0 454.9,340.5 464.8,309.3 474.6,304.4 484.5,303.0 494.3,332.3" stroke="#00c8ff" stroke-width="1" />
<polyline points="425.4,320.8 435.2,320.0 445.1,334.0 454.9,329.9 464.8,325.8 474.6,342.2" stroke="#0050ff" stroke-width="1" />
<polyline points="573.1,287.7 583.0,265.5 592.8,262.7 602.7,262.2 612.5,259.9 622.4,258.2 632.2,263.0 642.1,264.5 651.9,274.0" stroke="#eb6400" stroke-width="1" />
<polyline points="533.8,300.8 543.6,287.7 553.5,281.1 563.3,281.9 573.1,279.5 583.0,273.7 592.8,271.2 602.7,269.6 612.5,273.8 622.4,265.3 632.2,267.0 642.1,274.0 651.9,261.1 661.8,252.5 671.6,253.7 681.5,256.2 691.4,254.2 701.2,236.4 711.0,235.1" stroke="#00dc32" stroke-width="1" />
<polyline points="523.9,294.2 533.8,283.6 543.6,273.4 553.5,280.3 563.3,287.7 573.1,289.3 583.0,276.2 592.8,274.5 602.7,281.1 612.5,305.8" stroke="#00c8ff" stroke-width="1" />
<polyline points="661.8,259.5 671.6,259.5 681.5,264.4 691.4,259.5 701.2,248.3 711.0,257.0" stroke="#e14600" stroke-width="1" />
<polyline points="681.5,267.7 691.4,274.2 701.2,259.5 711.0,269.3" stroke="#ffa000" stroke-width="1" />
<polyline points="523.9,379.0 533.8,388.9 543.6,363.4 553.5,362.6 563.3,375.8 573.1,391.4 583.0,363.4 592.8,364.2 602.7,393.8 612.5,397.1 622.4,369.5 632.2,370.0 642.1,366.7 651.9,363.3 661.8,332.9 671.6,331.2 681.5,327.1 691.4,321.4 701.2,300.0" stroke="#ffff00" stroke-width="1" />
<polyline points="602.7,345.3 612.5,373.3 622.4,347.0 632.2,356.0 642.1,386.4 651.9,385.5 661.8,366.6 671.6,360.0 681.5,355.1 691.4,365.8 701.2,334.5 711.0,339.5" stroke="#00e6a0" stroke-width="1" />
<polyline points="632.2,323.0 642.1,347.7 651.9,363.3 661.8,346.9 671.6,354.2 681.5,376.4 691.4,375.6 701.2,351.0 711.0,347.7" stroke="#0090ff" stroke-width="1" />
<polyline points="681.5,308.2 691.4,333.7 701.2,318.9 711.0,354.2" stroke="#c31400" stroke-width="1" />
<polyline points="612.5,354.2 622.4,328.8 632.2,335.3 642.1,345.2 651.9,339.5 661.8,314.8 671.6,313.2 681.5,314.8" stroke="#ffa000" stroke-width="1" />
<polyline points="543.6,365.9 553.5,375.8 563.3,388.9 573.1,381.5 583.0,345.3 592.8,337.1 602.7,341.2 612.5,356.0 622.4,329.7" stroke="#ffa000" stroke-width="1" />
<polyline points="533.8,359.3 543.6,339.6 553.5,337.1 563.3,357.7 573.1,368.4 583.0,339.6 592.8,345.3 602.7,344.5 612.5,346.2 622.4,318.2" stroke="#00c8ff" stroke-width="1" />
<polyline points="523.9,365.9 533.8,377.4 543.6,331.4 553.5,331.4 563.3,347.0 573.1,350.3 583.0,313.3 592.8,311.6" stroke="#c31400" stroke-width="1" />
<polyline points="583.0,293.6 592.8,345.3 602.7,359.3 612.5,364.2 622.4,331.4 632.2,305.0" stroke="#b40000" stroke-width="1" />
<polyline points="90.5,308.0 100.3,303.0 110.2,289.0 120.0,284.0 129.9,281.5 139.8,280.0 149.6,271.0 159.4,272.5 169.3,274.0 179.1,273.5 189.0,268.5 198.8,269.0 208.7,270.5 218.5,271.0 228.4,260.5 238.2,272.0 248.1,278.1 257.9,285.2 267.8,266.6 277.6,277.0 287.5,286.9 297.4,293.9 307.2,282.8 317.0,299.5 326.9,325.8 336.8,342.0 346.6,326.6 356.4,342.2 366.3,371.2 376.1,373.7 386.0,329.0 395.8,352.0 405.7,375.3 415.6,374.5 425.4,343.5 435.2,355.5 445.1,372.9 454.9,378.6 464.8,350.5 474.6,351.3 484.5,360.3 494.3,360.5 504.2,333.2 514.0,333.2 523.9,342.5 533.8,346.8 543.6,325.5 553.5,325.5 563.3,328.8 573.1,324.4 583.0,305.8 592.8,306.6 602.7,314.8 612.5,318.5 622.4,303.0 632.2,303.0 642.1,308.3 651.9,309.6 661.8,293.2 671.6,292.3 681.5,297.3 691.4,300.6 701.2,290.7 711.0,292.3" stroke="#828282" stroke-width="2.8" />
</g>
<g shape-rendering="crispEdges" fill="none" stroke="#000">
<rect x="90.5" y="48.5" width="621" height="511" stroke-width="3"/>
<line x1="87" y1="559.5" x2="89" y2="559.5"/>
<line x1="87" y1="516.5" x2="89" y2="516.5"/>
<line x1="87" y1="474.5" x2="89" y2="474.5"/>
<line x1="87" y1="431.5" x2="89" y2="431.5"/>
<line x1="87" y1="389.5" x2="89" y2="389.5"/>
<line x1="87" y1="346.5" x2="89" y2="346.5"/>
<line x1="87" y1="304.5" x2="89" y2="304.5"/>
<line x1="87" y1="261.5" x2="89" y2="261.5"/>
<line x1="87" y1="218.5" x2="89" y2="218.5"/>
<line x1="87" y1="176.5" x2="89" y2="176.5"/>
<line x1="87" y1="133.5" x2="89" y2="133.5"/>
<line x1="87" y1="91.5" x2="89" y2="91.5"/>
<line x1="87" y1="48.5" x2="89" y2="48.5"/>
<line x1="713" y1="559.5" x2="715" y2="559.5"/>
<line x1="713" y1="508.5" x2="715" y2="508.5"/>
<line x1="713" y1="457.5" x2="715" y2="457.5"/>
<line x1="713" y1="406.5" x2="715" y2="406.5"/>
<line x1="713" y1="355.5" x2="715" y2="355.5"/>
<line x1="713" y1="304.5" x2="715" y2="304.5"/>
<line x1="713" y1="252.5" x2="715" y2="252.5"/>
<line x1="713" y1="201.5" x2="715" y2="201.5"/>
<line x1="713" y1="150.5" x2="715" y2="150.5"/>
<line x1="713" y1="99.5" x2="715" y2="99.5"/>
<line x1="713" y1="48.5" x2="715" y2="48.5"/>
<line x1="129.5" y1="561" x2="129.5" y2="563"/>
<line x1="208.5" y1="561" x2="208.5" y2="563"/>
<line x1="287.5" y1="561" x2="287.5" y2="563"/>
<line x1="366.5" y1="561" x2="366.5" y2="563"/>
<line x1="445.5" y1="561" x2="445.5" y2="563"/>
<line x1="523.5" y1="561" x2="523.5" y2="563"/>
<line x1="602.5" y1="561" x2="602.5" y2="563"/>
<line x1="681.5" y1="561" x2="681.5" y2="563"/>
</g>
<g fill="none" stroke-linejoin="round" stroke-linecap="butt" shape-rendering="crispEdges">
<polyline points="92.0,556.4 100.3,545.5 110.2,529.0 120.0,523.4 129.9,522.5 139.8,553.0 149.6,556.2 159.4,552.0 169.3,525.0 179.1,555.4 189.0,556.2 198.8,556.2 208.7,557.0 218.5,557.3 228.4,557.0 238.2,530.3 248.1,512.8 257.9,557.0 267.8,555.9 277.6,551.8 287.5,557.3 297.4,557.3 307.2,555.9 317.0,545.6 326.9,520.0 336.8,496.4 346.6,528.2 356.4,548.7 366.3,554.9 376.1,498.5 386.0,541.5 395.8,550.8 405.7,547.7" stroke="#00dc00" stroke-width="3.0" />
<polyline points="419.0,558.4 438.5,558.4 458.0,558.4 477.5,553.8 497.0,533.3 516.5,556.5 536.0,530.8 555.5,520.4 575.0,540.5 594.5,558.4 614.0,558.4 633.5,558.4 653.0,558.0 672.5,555.0 692.0,552.4 711.5,558.4" stroke="#00dc00" stroke-width="3.0" />
<polyline points="92.0,307.0 100.3,301.6 110.2,286.9 120.0,282.4 129.9,279.5 139.8,278.0 149.6,270.4 159.4,272.0 169.3,273.7 179.1,273.7 189.0,269.6 198.8,268.8 208.7,270.1 218.5,270.9 228.4,261.4 238.2,270.1 248.1,275.8 257.9,278.6 267.8,263.0 277.6,272.9 287.5,281.1 297.4,285.2 307.2,278.9 317.0,289.6 326.9,288.8 336.8,308.5 346.6,315.1 356.4,320.8 366.3,363.4 376.1,366.8 386.0,327.6 395.8,340.0 405.7,370.3" stroke="#00dc00" stroke-width="3.0" />
<polyline points="419.0,361.2 438.5,359.4 458.0,349.3 477.5,327.4 497.0,290.0 516.5,288.3 536.0,286.2 555.5,282.4 575.0,304.1 594.5,323.8 614.0,322.0 633.5,318.6 653.0,321.4 672.5,319.7 692.0,301.6 710.0,287.8" stroke="#00dc00" stroke-width="3.0" />
<polyline points="92.0,308.2 129.9,307.6 169.3,305.6 208.7,305.3 248.1,305.3 287.5,298.2 307.2,296.4 326.9,296.5 366.3,301.1 405.7,301.1 445.1,297.0 484.5,296.2 523.9,297.3 563.3,292.6 602.7,291.8 642.1,288.7 681.5,284.4 710.0,285.4" stroke="#f00000" stroke-width="3.0" />
</g>
<rect x="528.5" y="48.5" width="183" height="73" fill="#fff" stroke="#000" stroke-width="1" shape-rendering="crispEdges"/>
<line x1="549" y1="63.5" x2="589" y2="63.5" stroke="#f00000" stroke-width="3" shape-rendering="crispEdges"/>
<line x1="549" y1="77.5" x2="589" y2="77.5" stroke="#3200ff" stroke-width="3" shape-rendering="crispEdges"/>
<line x1="549" y1="92.5" x2="589" y2="92.5" stroke="#00dc00" stroke-width="3" shape-rendering="crispEdges"/>
<line x1="549" y1="107.5" x2="589" y2="107.5" stroke="#828282" stroke-width="3" shape-rendering="crispEdges"/>
<g>
<text transform="translate(605.28,67.20) scale(0.6473,0.5725)" font-size="20" stroke-width="0.23" stroke="#000">30</text>
<text transform="translate(620.23,66.76) scale(1.4082,0.6250)" font-size="20">-</text>
<text transform="translate(629.41,67.20) scale(0.6288,0.5725)" font-size="20" stroke-width="0.24" stroke="#000">Jahres</text>
<text transform="translate(667.03,66.76) scale(1.4082,0.6250)" font-size="20">-</text>
<text transform="translate(675.67,67.20) scale(0.6451,0.5725)" font-size="20" stroke-width="0.23" stroke="#000">Mittel</text>
</g>
<g>
<text transform="translate(604.73,81.80) scale(0.6672,0.5725)" font-size="20" stroke-width="0.22" stroke="#000">Kontroll</text>
<text transform="translate(648.98,81.36) scale(1.4694,0.6250)" font-size="20">-</text>
<text transform="translate(658.09,81.80) scale(0.6337,0.5725)" font-size="20" stroke-width="0.24" stroke="#000">Lauf</text>
</g>
<g>
<text transform="translate(605.27,96.70) scale(0.5255,0.5725)" font-size="20" stroke-width="0.26" stroke="#000">GFS</text>
<text transform="translate(626.83,96.26) scale(1.4082,0.6250)" font-size="20">-</text>
<text transform="translate(635.47,96.70) scale(0.6421,0.5725)" font-size="20" stroke-width="0.23" stroke="#000">Hauptlauf</text>
</g>
<g>
<text transform="translate(604.82,111.20) scale(0.6134,0.5725)" font-size="20" stroke-width="0.24" stroke="#000">Ensemble</text>
<text transform="translate(658.74,110.76) scale(1.5102,0.6250)" font-size="20">-</text>
<text transform="translate(668.27,111.20) scale(0.6451,0.5725)" font-size="20" stroke-width="0.23" stroke="#000">Mittel</text>
</g>
<g>
<text transform="translate(71.26,563.95) scale(0.5556,0.5786)" font-size="20" stroke-width="0.26" stroke="#000">30</text>
<text transform="translate(62.64,563.31) scale(1.2857,0.6250)" font-size="20">-</text>
<text transform="translate(71.14,521.37) scale(0.5637,0.5786)" font-size="20" stroke-width="0.26" stroke="#000">25</text>
<text transform="translate(62.64,520.73) scale(1.2857,0.6250)" font-size="20">-</text>
<text transform="translate(71.14,478.78) scale(0.5610,0.5786)" font-size="20" stroke-width="0.26" stroke="#000">20</text>
<text transform="translate(62.64,478.15) scale(1.2857,0.6250)" font-size="20">-</text>
<text transform="translate(70.83,436.20) scale(0.5779,0.5786)" font-size="20" stroke-width="0.26" stroke="#000">15</text>
<text transform="translate(62.64,435.56) scale(1.2857,0.6250)" font-size="20">-</text>
<text transform="translate(70.84,393.62) scale(0.5750,0.5786)" font-size="20" stroke-width="0.26" stroke="#000">10</text>
<text transform="translate(62.64,392.98) scale(1.2857,0.6250)" font-size="20">-</text>
<text transform="translate(77.13,351.03) scale(0.5895,0.5786)" font-size="20" stroke-width="0.25" stroke="#000">5</text>
<text transform="translate(68.54,350.40) scale(1.2857,0.6250)" font-size="20">-</text>
<text transform="translate(77.13,308.45) scale(0.5833,0.5786)" font-size="20" stroke-width="0.26" stroke="#000">0</text>
<text transform="translate(77.13,265.87) scale(0.5895,0.5786)" font-size="20" stroke-width="0.25" stroke="#000">5</text>
<text transform="translate(70.84,223.28) scale(0.5750,0.5786)" font-size="20" stroke-width="0.26" stroke="#000">10</text>
<text transform="translate(70.83,180.70) scale(0.5779,0.5786)" font-size="20" stroke-width="0.26" stroke="#000">15</text>
<text transform="translate(71.14,138.12) scale(0.5610,0.5786)" font-size="20" stroke-width="0.26" stroke="#000">20</text>
<text transform="translate(71.14,95.53) scale(0.5637,0.5786)" font-size="20" stroke-width="0.26" stroke="#000">25</text>
<text transform="translate(71.26,52.95) scale(0.5556,0.5786)" font-size="20" stroke-width="0.26" stroke="#000">30</text>
</g><g>
<text transform="translate(717.53,563.95) scale(0.5833,0.5786)" font-size="20" stroke-width="0.26" stroke="#000">0</text>
<text transform="translate(717.53,512.85) scale(0.5895,0.5786)" font-size="20" stroke-width="0.25" stroke="#000">5</text>
<text transform="translate(717.13,461.75) scale(0.5800,0.5786)" font-size="20" stroke-width="0.26" stroke="#000">10</text>
<text transform="translate(717.13,410.65) scale(0.5829,0.5786)" font-size="20" stroke-width="0.26" stroke="#000">15</text>
<text transform="translate(717.43,359.55) scale(0.5659,0.5786)" font-size="20" stroke-width="0.26" stroke="#000">20</text>
<text transform="translate(717.43,308.45) scale(0.5686,0.5786)" font-size="20" stroke-width="0.26" stroke="#000">25</text>
<text transform="translate(717.55,257.35) scale(0.5604,0.5786)" font-size="20" stroke-width="0.26" stroke="#000">30</text>
<text transform="translate(717.55,206.25) scale(0.5631,0.5786)" font-size="20" stroke-width="0.26" stroke="#000">35</text>
<text transform="translate(717.78,155.15) scale(0.5498,0.5786)" font-size="20" stroke-width="0.26" stroke="#000">40</text>
<text transform="translate(717.78,104.05) scale(0.5524,0.5786)" font-size="20" stroke-width="0.26" stroke="#000">45</text>
<text transform="translate(717.55,52.95) scale(0.5604,0.5786)" font-size="20" stroke-width="0.26" stroke="#000">50</text>
</g><g>
<text transform="translate(116.53,573.60) scale(0.4701,0.6014)" font-size="20" stroke-width="0.25" stroke="#000">7MAR</text>
<text transform="translate(195.38,573.60) scale(0.4693,0.6014)" font-size="20" stroke-width="0.25" stroke="#000">9MAR</text>
<text transform="translate(270.75,573.60) scale(0.5000,0.6014)" font-size="20" stroke-width="0.25" stroke="#000">11MAR</text>
<text transform="translate(349.57,573.60) scale(0.4891,0.6014)" font-size="20" stroke-width="0.25" stroke="#000">13MAR</text>
<text transform="translate(428.37,573.60) scale(0.4891,0.6014)" font-size="20" stroke-width="0.25" stroke="#000">15MAR</text>
<text transform="translate(507.17,573.60) scale(0.4891,0.6014)" font-size="20" stroke-width="0.25" stroke="#000">17MAR</text>
<text transform="translate(585.97,573.60) scale(0.4891,0.6014)" font-size="20" stroke-width="0.25" stroke="#000">19MAR</text>
<text transform="translate(665.01,573.60) scale(0.4853,0.6014)" font-size="20" stroke-width="0.25" stroke="#000">21MAR</text>
<text transform="translate(116.93,584.90) scale(0.5738,0.5929)" font-size="20" stroke-width="0.25" stroke="#000">2013</text>
</g>
<g>
<text transform="translate(-1.01,107.50) scale(0.6335,0.5797)" font-size="20" style="fill:#3300ff">P0</text>
<text transform="translate(-1.02,125.75) scale(0.6393,0.5797)" font-size="20" style="fill:#0010ff">P1</text>
<text transform="translate(-1.03,144.00) scale(0.6422,0.5797)" font-size="20" style="fill:#0050ff">P2</text>
<text transform="translate(-1.02,162.25) scale(0.6364,0.5797)" font-size="20" style="fill:#0090ff">P3</text>
<text transform="translate(-1.01,180.50) scale(0.6306,0.5797)" font-size="20" style="fill:#00c8ff">P4</text>
<text transform="translate(-1.02,198.75) scale(0.6364,0.5797)" font-size="20" style="fill:#00e6e6">P5</text>
<text transform="translate(-1.02,217.00) scale(0.6364,0.5797)" font-size="20" style="fill:#00e6a0">P6</text>
<text transform="translate(-1.03,235.25) scale(0.6422,0.5797)" font-size="20" style="fill:#00e664">P7</text>
<text transform="translate(-1.02,253.50) scale(0.6364,0.5797)" font-size="20" style="fill:#00dc32">P8</text>
<text transform="translate(-1.02,271.75) scale(0.6393,0.5797)" font-size="20" style="fill:#00e600">P9</text>
<text transform="translate(-1.05,290.00) scale(0.6547,0.5797)" font-size="20" style="fill:#3ce600">P10</text>
<text transform="translate(-1.10,308.25) scale(0.6899,0.5797)" font-size="20" style="fill:#ffff00">P11</text>
<text transform="translate(-1.06,326.50) scale(0.6606,0.5797)" font-size="20" style="fill:#ffe000">P12</text>
<text transform="translate(-1.05,344.75) scale(0.6566,0.5797)" font-size="20" style="fill:#ffc000">P13</text>
<text transform="translate(-1.04,363.00) scale(0.6527,0.5797)" font-size="20" style="fill:#ffa000">P14</text>
<text transform="translate(-1.05,381.25) scale(0.6566,0.5797)" font-size="20" style="fill:#ff8200">P15</text>
<text transform="translate(-1.05,399.50) scale(0.6566,0.5797)" font-size="20" style="fill:#eb6400">P16</text>
<text transform="translate(-1.06,417.75) scale(0.6606,0.5797)" font-size="20" style="fill:#e14600">P17</text>
<text transform="translate(-1.05,436.00) scale(0.6566,0.5797)" font-size="20" style="fill:#d72800">P18</text>
<text transform="translate(-1.05,454.25) scale(0.6586,0.5797)" font-size="20" style="fill:#c31400">P19</text>
<text transform="translate(-1.05,472.50) scale(0.6547,0.5797)" font-size="20" style="fill:#b40000">P20</text>
</g>
<g>
<text transform="translate(17.17,12.90) scale(0.9575,0.8333)" font-size="20" stroke-width="0.16" stroke="#000">Position</text>
<text transform="translate(103.49,12.90) scale(0.9431,0.8333)" font-size="20" stroke-width="0.16" stroke="#000">Lat:</text>
<text transform="translate(147.44,12.90) scale(0.8905,0.8333)" font-size="20" stroke-width="0.17" stroke="#000">46</text>
<text transform="translate(176.15,12.90) scale(0.9718,0.8333)" font-size="20" stroke-width="0.15" stroke="#000">Lon:</text>
<text transform="translate(226.07,12.90) scale(0.8197,0.8333)" font-size="20" stroke-width="0.18" stroke="#000">11</text>
</g><g>
<text transform="translate(493.50,12.90) scale(0.7961,0.8333)" font-size="20" font-weight="bold" stroke-width="0.18" stroke="#000">Wed,</text>
<text transform="translate(531.19,12.90) scale(0.8881,0.8333)" font-size="20" font-weight="bold" stroke-width="0.17" stroke="#000">06MAR2013</text>
<text transform="translate(641.56,12.90) scale(0.9275,0.8333)" font-size="20" font-weight="bold" stroke-width="0.16" stroke="#000">00Z</text>
</g><g>
<text transform="translate(123.01,36.10) scale(1.3186,1.3623)" font-size="20" stroke="#000" stroke-width="0.45">850</text>
<text transform="translate(180.36,36.10) scale(1.1696,1.3623)" font-size="20" stroke="#000" stroke-width="0.45">hPa</text>
<text transform="translate(235.90,36.10) scale(1.2567,1.3623)" font-size="20" stroke="#000" stroke-width="0.45">Temp.</text>
<text transform="translate(317.76,36.10) scale(1.2636,1.3623)" font-size="20" stroke="#000" stroke-width="0.45">in</text>
<text transform="translate(349.72,36.10) scale(1.2320,1.3623)" font-size="20" stroke="#000" stroke-width="0.45">°C,</text>
<text transform="translate(397.13,36.10) scale(1.2714,1.3623)" font-size="20" stroke="#000" stroke-width="0.45">6h</text>
<text transform="translate(424.76,36.23) scale(2.9388,1.2500)" font-size="20">-</text>
<text transform="translate(443.31,36.10) scale(1.2443,1.3623)" font-size="20" stroke="#000" stroke-width="0.45">Niederschlag</text>
<text transform="translate(601.65,36.10) scale(1.2713,1.3623)" font-size="20" stroke="#000" stroke-width="0.45">in</text>
<text transform="translate(634.12,36.10) scale(1.2922,1.3623)" font-size="20" stroke="#000" stroke-width="0.45">mm</text>
</g><g>
<text transform="translate(90.26,607.80) scale(0.7748,0.6377)" font-size="20" stroke-width="0.19" stroke="#000">Daten:</text>
<text transform="translate(141.64,607.80) scale(0.7277,0.6377)" font-size="20" stroke-width="0.21" stroke="#000">Ensembles</text>
<text transform="translate(222.47,607.80) scale(0.6612,0.6377)" font-size="20" stroke-width="0.23" stroke="#000">des</text>
<text transform="translate(253.61,607.80) scale(0.5944,0.6377)" font-size="20" stroke-width="0.24" stroke="#000">GFS</text>
<text transform="translate(287.83,607.80) scale(0.7338,0.6377)" font-size="20" stroke-width="0.20" stroke="#000">von</text>
<text transform="translate(318.66,607.80) scale(0.6484,0.6377)" font-size="20" stroke-width="0.23" stroke="#000">NCEP</text>
</g>
<text transform="translate(602.41,608.20) scale(0.9200,0.7536)" font-size="20" stroke-width="0.16" stroke="#000">Wetterzentrale</text>
</svg></body></html>
